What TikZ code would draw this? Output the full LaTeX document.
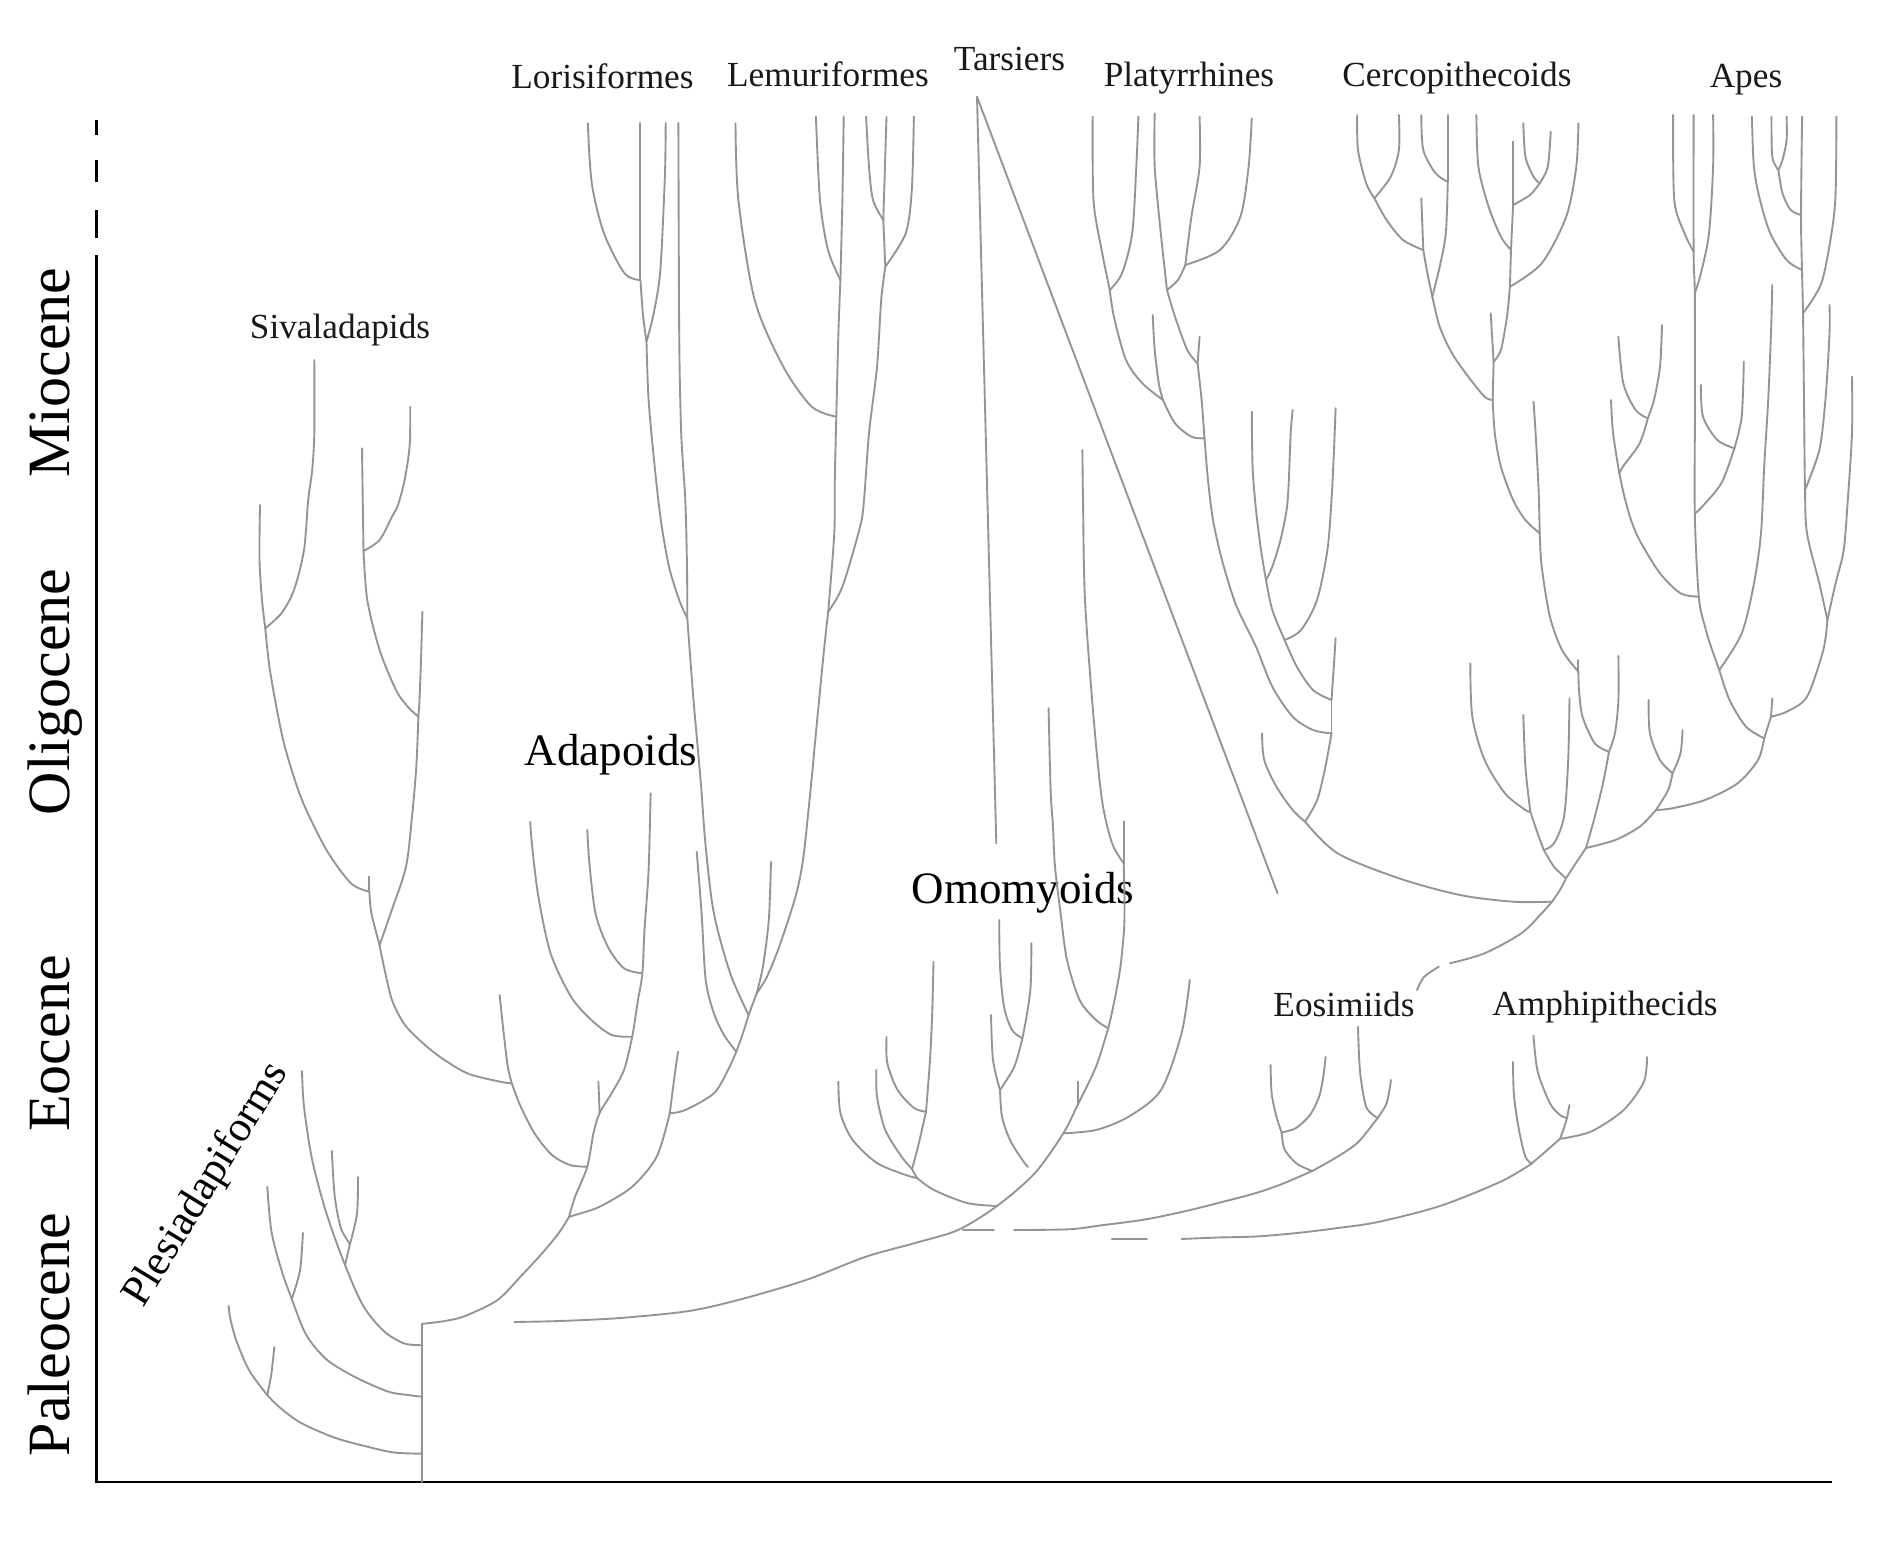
\documentclass[tikz,border=0pt]{standalone}
\usepackage{fontspec}
\setmainfont{Liberation Serif}
\begin{document}
\begin{tikzpicture}[x=0.4pt,y=-0.4pt,
  br/.style={draw=black!42,line width=0.75pt,line cap=round,line join=round},
  ax/.style={draw=black,line width=1.1pt},
  lbl/.style={font=\fontsize{14.1}{16}\selectfont,anchor=base,inner sep=0pt,text=black!90},
  big/.style={font=\fontsize{18}{21}\selectfont,anchor=base,inner sep=0pt,text=black},
  era/.style={font=\fontsize{24}{28}\selectfont,anchor=base,rotate=90,inner sep=0pt,text=black}]
\useasboundingbox (0,0) rectangle (1896,1552);
\fill[white] (0,0) rectangle (1896,1552);
% ---------- axes ----------
\coordinate (ax0) at (96.7,1482);
\coordinate (axT) at (96.7,255);
\coordinate (axR) at (1831.5,1482);
\draw[ax] (axT) -- (ax0) -- (axR);
\draw[ax] (96.7,120) -- (96.7,135) (96.7,160) -- (96.7,182) (96.7,210) -- (96.7,238);
\node[era] (miocene) at (70,372.5) {Miocene};
\node[era] (oligocene) at (70,692) {Oligocene};
\node[era] (eocene) at (70,1043.5) {Eocene};
\node[era] (paleocene) at (70,1334.5) {Paleocene};
% ---------- labels ----------
\node[lbl] (lLor) at (602.5,89) {Lorisiformes};
\node[lbl] (lLem) at (828,87) {Lemuriformes};
\node[lbl] (lTar) at (1009.5,71) {Tarsiers};
\node[lbl] (lPla) at (1189,87) {Platyrrhines};
\node[lbl] (lCer) at (1457,87) {Cercopithecoids};
\node[lbl] (lApe) at (1746,88) {Apes};
\node[lbl] (lSiv) at (340,339) {Sivaladapids};
\node[big] (lAda) at (611,765) {Adapoids};
\node[big] (lOmo) at (1023,903) {Omomyoids};
\node[lbl] (lEos) at (1344,1016) {Eosimiids};
\node[lbl] (lAmp) at (1605,1015) {Amphipithecids};
\node[font=\fontsize{17.2}{20}\selectfont,rotate=58.5,inner sep=0pt] (lPle) at (207,1185) {Plesiadapiforms};
% ---------- root and Plesiadapiforms ----------
\coordinate (R0) at (422.4,1482);
\coordinate (R1) at (422.4,1323.8);
\coordinate (P1n) at (422.4,1453.7);
\coordinate (P1s) at (267.3,1395);
\coordinate (P1t) at (228.6,1306);
\coordinate (P1u) at (274.3,1347);
\coordinate (P2n) at (422.4,1396.8);
\coordinate (P2s) at (291.8,1299);
\coordinate (P2t) at (267.3,1186.8);
\coordinate (P2u) at (302.9,1233);
\coordinate (P3n) at (422.4,1345.2);
\coordinate (P3s) at (345,1265);
\coordinate (P3t) at (302,1071);
\coordinate (P3f) at (350,1244);
\coordinate (P3l) at (331.8,1151);
\coordinate (P3r) at (358,1177);
\draw[br] (R0) -- (R1);
\draw[br] plot[smooth] coordinates {(P1n) (394,1452.5) (367,1446.6) (334.7,1437.7) (302,1423.5) (281.6,1409) (P1s) (249,1370) (236.7,1341.6) (230.6,1320) (P1t)};
\draw[br] plot[smooth] coordinates {(P1s) (271.4,1373.7) (P1u)};
\draw[br] plot[smooth] coordinates {(P2n) (408,1395) (387.8,1391.5) (355,1377) (326.5,1359.4) (306,1334.5) (P2s) (281.6,1270.5) (271.4,1231.3) (P2t)};
\draw[br] plot[smooth] coordinates {(P2s) (300,1270.5) (P2u)};
\draw[br] plot[smooth] coordinates {(P3n) (404,1343.4) (383.7,1331) (363.3,1306) (P3s) (326.5,1213.5) (312.2,1160) (304,1106.8) (P3t)};
\draw[br] (P3s) -- (P3f);
\draw[br] plot[smooth] coordinates {(P3f) (340.8,1227.8) (334.7,1195.7) (P3l)};
\draw[br] plot[smooth] coordinates {(P3f) (357,1213.5) (P3r)};
% ---------- Sivaladapids ----------
\coordinate (S0) at (511.8,1083.3);
\coordinate (S0t) at (499.6,995);
\coordinate (Si0) at (379.6,945);
\coordinate (SiK) at (369.4,891.7);
\coordinate (SiKt) at (369.4,876.7);
\coordinate (SiL) at (265.3,628.3);
\coordinate (SiLa) at (260,505);
\coordinate (SiLb) at (314.3,360);
\coordinate (SiT) at (418.4,716.7);
\coordinate (SiTt) at (422.4,611.7);
\coordinate (SiM) at (363.5,551);
\coordinate (SiMa) at (362,448.3);
\coordinate (SiMb) at (410.2,406.7);
\draw[br] plot[smooth] coordinates {(SiLa) (259.5,560) (262,600) (SiL)};
\draw[br] plot[smooth] coordinates {(SiLb) (314.3,433) (312.2,470) (308.2,500) (304,550) (294,590) (281.6,613) (SiL)};
\draw[br] plot[smooth] coordinates {(SiL) (269.4,666.7) (277.6,713.3) (285.7,750) (302,800) (326.5,850) (351,883.3) (SiK)};
\draw[br] (SiK) -- (SiKt);
\draw[br] plot[smooth] coordinates {(SiK) (371.4,913.3) (Si0)};
\draw[br] (SiMa) -- (SiM);
\draw[br] plot[smooth] coordinates {(SiMb) (410,440) (408,460) (404,483) (398,505) (391.8,517) (379.6,540) (SiM)};
\draw[br] plot[smooth] coordinates {(SiM) (367.3,600) (379.6,650) (396,690) (408,707) (SiT)};
\draw[br] plot[smooth] coordinates {(SiTt) (421,660) (419.5,700) (SiT)};
\draw[br] plot[smooth] coordinates {(SiT) (416.3,766.7) (412,816.7) (406,866.7) (391.8,910) (Si0)};
\draw[br] plot[smooth] coordinates {(Si0) (384,967) (392,1000) (405,1025) (425,1045) (444.5,1060) (469,1074) (501.6,1082) (S0)};
% ---------- Adapoids ----------
\coordinate (A1) at (569,1217);
\coordinate (A2) at (587.3,1166.7);
\coordinate (A3) at (599.6,1113);
\coordinate (A3t) at (598.4,1081.7);
\coordinate (A4) at (632.2,1036.7);
\coordinate (A4t) at (530.2,821.7);
\coordinate (A5) at (642.4,973.3);
\coordinate (A5t) at (587.3,830);
\coordinate (ATt) at (650.6,793.3);
\coordinate (B1) at (669.8,1113.3);
\coordinate (B1t) at (678,1051.7);
\coordinate (B2) at (736.3,1051.7);
\coordinate (B2t) at (696.7,851.7);
\coordinate (B3) at (748.6,1015);
\coordinate (B4) at (756.7,993.3);
\coordinate (B4t) at (771,861.7);
\draw[br] plot[smooth] coordinates {(R1) (445,1321) (465,1316) (497.6,1300) (522,1275) (542.4,1253) (558.8,1233) (A1)};
\draw[br] plot[smooth] coordinates {(A1) (575,1197) (A2) (593.5,1133) (A3) (611.8,1093) (624,1070) (A4) (638,1000) (A5) (644.5,930) (648.6,870) (ATt)};
\draw[br] (A3) -- (A3t);
\draw[br] plot[smooth] coordinates {(A2) (570,1165) (552,1155) (534.3,1133) (520,1105) (S0)};
\draw[br] plot[smooth] coordinates {(S0) (507.8,1066.7) (503.7,1033.3) (S0t)};
\draw[br] plot[smooth] coordinates {(A4) (611.8,1035) (591.4,1020) (571,996.7) (550.6,953.3) (538.4,896.7) (532.2,846.7) (A4t)};
\draw[br] plot[smooth] coordinates {(A5) (624,968.3) (607.8,946.7) (595.5,913.3) (589.4,863.3) (A5t)};
\draw[br] plot[smooth] coordinates {(A1) (575,1215) (599.6,1206.7) (632.2,1186.7) (656.7,1156.7) (B1)};
\draw[br] plot[smooth] coordinates {(B1) (674,1080) (B1t)};
\draw[br] plot[smooth] coordinates {(B1) (685.3,1110) (713.9,1093.3) (728,1070) (B2)};
\draw[br] plot[smooth] coordinates {(B2) (724,1035) (713.9,1013.3) (705.7,980) (701.6,913.3) (B2t)};
\draw[br] plot[smooth] coordinates {(B2) (743,1033) (B3)};
\draw[br] (B3) -- (B4);
\draw[br] plot[smooth] coordinates {(B4) (762.9,966.7) (768.8,920) (B4t)};
% ---------- Lorisiformes ----------
\coordinate (LZ) at (687.3,618.3);
\coordinate (LZa) at (640.4,280);
\coordinate (LZb) at (646.5,341.7);
\coordinate (Lt1) at (587.8,123.3);
\coordinate (Lt2) at (640.4,123);
\coordinate (Lt3) at (665.7,123);
\coordinate (Lt4) at (678.4,123);
\draw[br] plot[smooth] coordinates {(B3) (730.2,973.3) (713.9,913.3) (705.7,846.7) (700.6,780) (693.5,700) (LZ)};
\draw[br] plot[smooth] coordinates {(Lt1) (591.8,183.3) (604,233.3) (624.5,273.3) (LZa)};
\draw[br] (Lt2) -- (LZa);
\draw[br] plot[smooth] coordinates {(LZa) (643,315) (LZb)};
\draw[br] plot[smooth] coordinates {(Lt3) (665,173) (661.6,250) (659,283) (653,316.7) (LZb)};
\draw[br] plot[smooth] coordinates {(LZb) (648.6,400) (654.7,466.7) (660.8,520) (669,566.7) (679.2,600) (LZ)};
\draw[br] plot[smooth] coordinates {(Lt4) (679.2,333) (681.2,433) (685.3,500) (687,567) (LZ)};
% ---------- Lemuriformes ----------
\coordinate (LM1) at (828.2,611.7);
\coordinate (LMv) at (836.3,416.7);
\coordinate (LMa) at (840.4,280);
\coordinate (LMb) at (883.3,220);
\coordinate (LMc) at (885.3,266.7);
\coordinate (Mt1) at (735.5,123.3);
\coordinate (Mt2) at (815.9,116.7);
\coordinate (Mt3) at (843.7,116.7);
\coordinate (Mt4) at (866.1,116.7);
\coordinate (Mt5) at (886.5,116.7);
\coordinate (Mt6) at (913.9,116.7);
\draw[br] plot[smooth] coordinates {(B4) (767,976.7) (779.2,946.7) (795.5,896.7) (803,860) (808.5,810) (812.5,770) (815.9,733.3) (824,650) (LM1)};
\draw[br] plot[smooth] coordinates {(Mt1) (738.4,200) (754.7,300) (783.3,366.7) (811.8,406.7) (LMv)};
\draw[br] plot[smooth] coordinates {(Mt2) (820,200) (828,250) (LMa)};
\draw[br] plot[smooth] coordinates {(Mt3) (842.4,200) (LMa)};
\draw[br] plot[smooth] coordinates {(LMa) (838.4,333) (LMv)};
\draw[br] plot[smooth] coordinates {(LMv) (834.8,480) (834.3,533) (LM1)};
\draw[br] plot[smooth] coordinates {(Mt4) (869,166.7) (873,200) (LMb)};
\draw[br] (Mt5) -- (LMb);
\draw[br] (LMb) -- (LMc);
\draw[br] plot[smooth] coordinates {(Mt6) (911.8,190) (905.7,233.3) (LMc)};
\draw[br] plot[smooth] coordinates {(LMc) (881.2,300) (877,366.7) (869,433.3) (864,500) (860,527) (842.4,586.7) (LM1)};
% ---------- Tarsiers ----------
\coordinate (T0) at (977,96.7);
\coordinate (Tv) at (996.3,843.3);
\coordinate (Td) at (1277.6,893.3);
\draw[br] (T0) -- (Tv);
\draw[br] (T0) -- (Td);
% ---------- Omomyoids ----------
\coordinate (S1) at (514.3,1322);
\coordinate (D0) at (958,1230);
\coordinate (D1) at (997,1206);
\coordinate (D2) at (1063.3,1133.3);
\coordinate (D2t) at (1189.8,980);
\coordinate (D3) at (1077.6,1105);
\coordinate (D3t) at (1077.6,1081.7);
\coordinate (D4) at (1108.2,1028.3);
\coordinate (D5) at (1123.7,863.3);
\coordinate (D5t) at (1123.7,821.7);
\coordinate (Ot1) at (1082.4,450);
\coordinate (Ot2) at (1048.6,708.3);
\coordinate (O0) at (917,1178);
\coordinate (O1) at (912,1169);
\coordinate (O2) at (926,1111.7);
\coordinate (Ot3) at (838.4,1081.7);
\coordinate (Ot4) at (876.3,1070);
\coordinate (Ot5) at (933.5,961.7);
\coordinate (Ot6) at (886.5,1036.7);
\coordinate (Om1) at (1022.4,1038.3);
\coordinate (Om2) at (1000,1090);
\coordinate (Omt1) at (999.2,920);
\coordinate (Omt2) at (1031.4,943.3);
\coordinate (Omt3) at (991,1015);
\coordinate (OmE) at (1028,1167);
\draw[br] plot[smooth] coordinates {(S1) (560,1321) (620,1318) (689,1311) (742,1299) (806,1280) (865,1257) (915,1243) (D0) (D1) (1034.7,1173.3) (D2) (D3) (1096,1066.7) (D4)};
\draw[br] plot[smooth] coordinates {(D1) (967,1203) (934,1190) (O0)};
\draw[br] plot[smooth] coordinates {(O0) (905.7,1175) (877,1163) (852.7,1140) (840.4,1113) (Ot3)};
\draw[br] (O0) -- (O1);
\draw[br] plot[smooth] coordinates {(O1) (901.6,1156.7) (885.3,1130) (877,1096.7) (Ot4)};
\draw[br] plot[smooth] coordinates {(O1) (918,1146.7) (O2)};
\draw[br] plot[smooth] coordinates {(O2) (930,1060) (932.2,1013) (Ot5)};
\draw[br] plot[smooth] coordinates {(O2) (914,1108) (897.6,1090) (887.3,1063) (Ot6)};
\draw[br] plot[smooth] coordinates {(D2) (1096,1130) (1128.6,1116.7) (1161,1090) (1181.6,1033) (D2t)};
\draw[br] (D3) -- (D3t);
\draw[br] plot[smooth] coordinates {(D4) (1096,1020) (1079.6,1000) (1067,960) (1061,916.7) (1055,866.7) (1053,826.7) (1050.6,790) (Ot2)};
\draw[br] plot[smooth] coordinates {(D4) (1112.5,1010) (1120,970) (1124,930) (1124.5,900) (D5)};
\draw[br] (D5) -- (D5t);
\draw[br] plot[smooth] coordinates {(D5) (1112,843) (1102,800) (1093.5,716.7) (1085,600) (1083,500) (Ot1)};
\draw[br] plot[smooth] coordinates {(Omt1) (1000,966.7) (1004,1006.7) (1012,1030) (Om1)};
\draw[br] plot[smooth] coordinates {(Omt2) (1030.6,986.7) (1026.5,1016.7) (Om1)};
\draw[br] plot[smooth] coordinates {(Om1) (1014.3,1066.7) (Om2)};
\draw[br] plot[smooth] coordinates {(Omt3) (993,1060) (Om2)};
\draw[br] plot[smooth] coordinates {(Om2) (1002,1116.7) (1010,1140) (1022.4,1160) (OmE)};
% ---------- Eosimiids and Amphipithecids ----------
\coordinate (Eo0) at (1312.2,1171);
\coordinate (Eo1) at (1281.6,1132.5);
\coordinate (Eo2) at (1377.6,1118);
\coordinate (Et1) at (1270.6,1065);
\coordinate (Et2) at (1325.6,1057);
\coordinate (Et3) at (1358,1026.7);
\coordinate (Et4) at (1391,1080);
\coordinate (Am0) at (1531.5,1163.7);
\coordinate (Am1) at (1560,1138.8);
\coordinate (Am2) at (1567,1118);
\coordinate (At1) at (1513,1062);
\coordinate (At2) at (1533.5,1035.6);
\coordinate (At3) at (1569.5,1105);
\coordinate (At4) at (1647,1057);
\coordinate (dA) at (962.9,1230);
\coordinate (dB) at (993.9,1230);
\coordinate (dC) at (1014,1230);
\coordinate (dD) at (1111.8,1239);
\coordinate (dE) at (1147,1239);
\coordinate (dF) at (1181.6,1239);
\draw[br] (dA) -- (dB);
\draw[br] plot[smooth] coordinates {(dC) (1069,1229.3) (1100,1225.5) (1145,1219.5) (1186,1211) (1226,1201) (1256,1193) (1282,1184) (Eo0)};
\draw[br] (dD) -- (dE);
\draw[br] plot[smooth] coordinates {(dF) (1218,1237.5) (1256,1236.5) (1297,1233) (1338,1228) (1378,1222) (1440,1206) (1501,1181.5) (Am0)};
\draw[br] plot[smooth] coordinates {(Eo0) (1296.8,1163.7) (1284.6,1149.5) (Eo1)};
\draw[br] plot[smooth] coordinates {(Eo1) (1276,1115) (1271.6,1093) (Et1)};
\draw[br] plot[smooth] coordinates {(Eo1) (1296,1128) (1310,1115) (1319.3,1096) (1323.5,1075) (Et2)};
\draw[br] plot[smooth] coordinates {(Eo0) (1337.6,1156.6) (1358,1142.3) (Eo2)};
\draw[br] plot[smooth] coordinates {(Eo2) (1366.2,1106.8) (1360,1071) (Et3)};
\draw[br] plot[smooth] coordinates {(Eo2) (1386.6,1103.2) (Et4)};
\draw[br] plot[smooth] coordinates {(Am0) (1525.4,1156.6) (1519.3,1131.7) (1514,1096) (At1)};
\draw[br] plot[smooth] coordinates {(Am0) (1545,1152) (Am1)};
\draw[br] plot[smooth] coordinates {(Am1) (1564,1128) (Am2)};
\draw[br] plot[smooth] coordinates {(Am2) (1560,1115) (1549.9,1103.2) (1537.6,1071.2) (At2)};
\draw[br] (Am2) -- (At3);
\draw[br] plot[smooth] coordinates {(Am1) (1590.7,1131.7) (1623.3,1110.3) (1643.8,1081.9) (At4)};
% ---------- crown anthropoids ----------
\coordinate (C0) at (1552,901.7);
\coordinate (sqA) at (1417,990);
\coordinate (sqB) at (1438.8,966.7);
\coordinate (sqC) at (1449.9,963.3);
\draw[br] plot[smooth] coordinates {(sqA) (1424,977) (sqB)};
\draw[br] plot[smooth] coordinates {(sqC) (1484.6,953.3) (1521.3,933.3) (1541.7,913.3) (C0)};
% Platyrrhines
\coordinate (P0) at (1305,821.7);
\coordinate (Pt0) at (1262,733.3);
\coordinate (PN) at (1331.5,733.3);
\coordinate (PN2) at (1331.5,700);
\coordinate (PNt) at (1335.6,638.3);
\coordinate (Q) at (1284.6,640);
\coordinate (Qv) at (1266,580);
\coordinate (Qt1) at (1251.8,411.7);
\coordinate (Qt2) at (1292.7,410);
\coordinate (Qt3) at (1335.6,408.3);
\coordinate (Pa) at (1109.8,290);
\coordinate (Pb) at (1162.9,400);
\coordinate (Pc) at (1204.5,438.3);
\coordinate (Pd) at (1167,290);
\coordinate (Px) at (1185.3,265);
\coordinate (Pe) at (1197.6,363.3);
\coordinate (pa1) at (1092.7,116.7);
\coordinate (pa2) at (1138.4,116.7);
\coordinate (pa3) at (1152.7,315);
\coordinate (pa4) at (1154.7,113.3);
\coordinate (pa5) at (1199.6,116.7);
\coordinate (pa6) at (1251.8,118.3);
\coordinate (pa7) at (1199.6,336.7);
\draw[br] plot[smooth] coordinates {(C0) (1513,901.7) (1460,895) (1398.9,878.3) (1337.6,853.3) (P0)};
\draw[br] plot[smooth] coordinates {(P0) (1292.7,810) (1276.4,786.7) (1264.2,760) (Pt0)};
\draw[br] plot[smooth] coordinates {(P0) (1317.2,800) (1325.4,766.7) (PN)};
\draw[br] (PN) -- (PN2);
\draw[br] plot[smooth] coordinates {(PN2) (1333.6,670) (PNt)};
\draw[br] plot[smooth] coordinates {(PN2) (1313,690) (1296.8,666.7) (Q)};
\draw[br] plot[smooth] coordinates {(Q) (1272.3,610) (Qv)};
\draw[br] plot[smooth] coordinates {(Qt1) (1252.6,466.7) (1256,510) (1261,550) (Qv)};
\draw[br] plot[smooth] coordinates {(Qt2) (1290.7,433) (1288.7,483) (1286.6,510) (1280.5,540) (1272.3,566.7) (Qv)};
\draw[br] plot[smooth] coordinates {(Q) (1301,630) (1317,600) (1327.4,550) (1331.5,500) (1334,450) (Qt3)};
\draw[br] plot[smooth] coordinates {(Pc) (1208,480) (1213,520) (1222,560) (1236,605) (1256,646.7) (1272.3,686.7) (1292.7,716.7) (1313,730) (PN)};
\draw[br] plot[smooth] coordinates {(pa1) (1093.5,200) (1101.6,250) (Pa)};
\draw[br] plot[smooth] coordinates {(pa2) (1136.3,166.7) (1132.2,233.3) (1122,273.3) (Pa)};
\draw[br] plot[smooth] coordinates {(Pa) (1113.9,316.7) (1126,360) (1142.4,383.3) (Pb)};
\draw[br] plot[smooth] coordinates {(pa3) (1154.7,350) (1158.8,383.3) (Pb)};
\draw[br] plot[smooth] coordinates {(Pb) (1175,423.3) (1191.4,436.7) (Pc)};
\draw[br] plot[smooth] coordinates {(pa4) (1154.7,166.7) (1160.8,233.3) (Pd)};
\draw[br] plot[smooth] coordinates {(pa5) (1199.6,166.7) (1191.4,216.7) (Px)};
\draw[br] plot[smooth] coordinates {(pa6) (1248.6,166.7) (1240.4,216.7) (1220,250) (Px)};
\draw[br] plot[smooth] coordinates {(Px) (1178,280) (Pd)};
\draw[br] plot[smooth] coordinates {(Pd) (1175,316.7) (1187.3,350) (Pe)};
\draw[br] (pa7) -- (Pe);
\draw[br] plot[smooth] coordinates {(Pe) (1201.6,400) (Pc)};
% Catarrhines
\coordinate (C1) at (1566,878.3);
\coordinate (Cr) at (1586,848);
\coordinate (Cs) at (1543.8,850);
\coordinate (Ct) at (1530.3,811.7);
\coordinate (ct1) at (1470.3,663.3);
\coordinate (ct2) at (1523.3,715);
\coordinate (ct3) at (1569.5,698.3);
\coordinate (Cf) at (1609,751.7);
\coordinate (Cft) at (1618.4,656);
\coordinate (Cc) at (1578.4,671.7);
\coordinate (Cct) at (1578.4,660);
\coordinate (Ce) at (1539.7,533.3);
\coordinate (c12) at (1533.5,401.7);
\coordinate (Q5) at (1492.7,400);
\coordinate (Q1) at (1374.4,198.3);
\coordinate (Q2) at (1423.3,250);
\coordinate (Q3) at (1447.8,181.7);
\coordinate (Qd) at (1432.3,296.7);
\coordinate (Ca) at (1539.7,183.3);
\coordinate (Cb) at (1513.1,205);
\coordinate (Cm) at (1511,250);
\coordinate (Cn) at (1509.9,286.7);
\coordinate (Co) at (1493.6,361.7);
\coordinate (c1) at (1357.2,115);
\coordinate (c2) at (1398.9,115);
\coordinate (c3) at (1421.3,115);
\coordinate (c4) at (1447.8,115);
\coordinate (c5) at (1476.4,115);
\coordinate (c6) at (1523.3,123.3);
\coordinate (c7) at (1550.7,131.7);
\coordinate (c8) at (1578.4,123.3);
\coordinate (c9) at (1513.1,141.7);
\coordinate (c10) at (1421.3,198.3);
\coordinate (c11) at (1490.7,313.3);
\draw[br] plot[smooth] coordinates {(C0) (1560,890) (C1)};
\draw[br] plot[smooth] coordinates {(C1) (1574,866) (Cr)};
\draw[br] plot[smooth] coordinates {(C1) (1554,866.7) (Cs)};
\draw[br] plot[smooth] coordinates {(Cs) (1537.6,833.3) (Ct)};
\draw[br] plot[smooth] coordinates {(Cs) (1554,843.3) (1564,816.7) (1568.2,760) (ct3)};
\draw[br] plot[smooth] coordinates {(Ct) (1525.4,810) (1505,793.3) (1484.6,760) (1472.3,716.7) (ct1)};
\draw[br] plot[smooth] coordinates {(Ct) (1525.4,766.7) (ct2)};
\draw[br] plot[smooth] coordinates {(Cr) (1594.8,816.7) (1603,783.3) (Cf)};
\draw[br] plot[smooth] coordinates {(Cf) (1615,733) (1618.4,700) (Cft)};
\draw[br] plot[smooth] coordinates {(Cf) (1594.8,743.3) (1582.5,716.7) (1579,690) (Cc)};
\draw[br] (Cc) -- (Cct);
\draw[br] plot[smooth] coordinates {(Cc) (1562,650) (1549.9,616.7) (1541.7,566.7) (Ce)};
\draw[br] plot[smooth] coordinates {(Ce) (1538.6,490) (1535.6,433) (c12)};
\draw[br] plot[smooth] coordinates {(Q5) (1494.8,433.3) (1500.9,466.7) (1513.1,500) (1525.4,520) (Ce)};
\draw[br] plot[smooth] coordinates {(c1) (1358,150) (1366.2,183.3) (Q1)};
\draw[br] plot[smooth] coordinates {(c2) (1398.9,150) (1390.7,176.7) (Q1)};
\draw[br] plot[smooth] coordinates {(Q1) (1386.6,220) (1403,240) (Q2)};
\draw[br] (c10) -- (Q2);
\draw[br] plot[smooth] coordinates {(c3) (1423.3,150) (1435.6,173.3) (Q3)};
\draw[br] (c4) -- (Q3);
\draw[br] plot[smooth] coordinates {(Q3) (1445.8,233.3) (1439.7,266.7) (Qd)};
\draw[br] plot[smooth] coordinates {(Q2) (1427.4,273.3) (Qd)};
\draw[br] plot[smooth] coordinates {(Qd) (1439.7,326.7) (1452,353.3) (1468.3,376.7) (1484.6,396.7) (Q5)};
\draw[br] plot[smooth] coordinates {(c6) (1525.4,156.7) (1533.5,176.7) (Ca)};
\draw[br] plot[smooth] coordinates {(c7) (1547.8,166.7) (Ca)};
\draw[br] plot[smooth] coordinates {(Ca) (1530,195) (Cb)};
\draw[br] (c9) -- (Cb);
\draw[br] (Cb) -- (Cm);
\draw[br] plot[smooth] coordinates {(c5) (1478.4,166.7) (1488.6,206.7) (1500.9,236.7) (Cm)};
\draw[br] (Cm) -- (Cn);
\draw[br] plot[smooth] coordinates {(c8) (1576.3,166.7) (1566.2,216.7) (1541.7,263.3) (Cn)};
\draw[br] plot[smooth] coordinates {(Cn) (1507,316.7) (1500.9,350) (Co)};
\draw[br] (c11) -- (Co);
\draw[br] (Co) -- (Q5);
% Apes
\coordinate (A0) at (1656,810);
\coordinate (Aq) at (1672.5,773.3);
\coordinate (q1) at (1648.6,700);
\coordinate (q2) at (1682.5,730);
\coordinate (Ar) at (1764.2,738.3);
\coordinate (Ak) at (1771,716.7);
\coordinate (Akt) at (1772.3,698.3);
\coordinate (Aj) at (1719.3,670);
\coordinate (Ap1) at (1827.4,620);
\coordinate (e1) at (1673.1,115);
\coordinate (e2) at (1693.6,115);
\coordinate (e3) at (1713.1,115);
\coordinate (e4) at (1743.8,361.7);
\coordinate (e5) at (1700.9,385);
\coordinate (Ae) at (1734.4,448.3);
\coordinate (AV1) at (1693.6,251.7);
\coordinate (AV2) at (1694.8,293.3);
\coordinate (AV3) at (1694.8,513.3);
\coordinate (AV4) at (1698.8,596.7);
\coordinate (Aw1) at (1647.8,418.3);
\coordinate (Aw2) at (1619.3,473.3);
\coordinate (w1) at (1618.4,336.7);
\coordinate (w2) at (1662,325);
\coordinate (w3) at (1611,400);
\coordinate (f0) at (1751.9,116.7);
\coordinate (f1) at (1771.5,116.7);
\coordinate (f2) at (1786.6,116.7);
\coordinate (f4) at (1802.1,116.7);
\coordinate (f5) at (1836.4,116.7);
\coordinate (f6) at (1829.5,305);
\coordinate (f7) at (1852,376.7);
\coordinate (f8) at (1772.3,285);
\coordinate (fN) at (1778.4,170);
\coordinate (AU1) at (1801,215);
\coordinate (AU2) at (1802,270);
\coordinate (AU3) at (1803,313.3);
\coordinate (AU4) at (1805,490);
\draw[br] plot[smooth] coordinates {(A0) (1639.7,826.7) (1615.2,840) (Cr)};
\draw[br] plot[smooth] coordinates {(Aq) (1668.2,790) (A0)};
\draw[br] plot[smooth] coordinates {(q1) (1649.9,733.3) (1660,760) (Aq)};
\draw[br] plot[smooth] coordinates {(q2) (1680.5,753.3) (Aq)};
\draw[br] plot[smooth] coordinates {(Ar) (1758,760) (1737.6,783.3) (1705,800) (1672.3,808.3) (A0)};
\draw[br] plot[smooth] coordinates {(e2) (AV1) (AV2) (1695,400) (AV3) (AV4) (1705,626.7) (1711,646.7) (Aj)};
\draw[br] plot[smooth] coordinates {(e1) (1674.3,200) (1684.5,233.3) (AV1)};
\draw[br] plot[smooth] coordinates {(e3) (1713.1,166.7) (1709,233.3) (1700.9,273.3) (AV2)};
\draw[br] plot[smooth] coordinates {(e4) (1741.7,416.7) (Ae)};
\draw[br] plot[smooth] coordinates {(e5) (1703,416.7) (1717.3,440) (Ae)};
\draw[br] plot[smooth] coordinates {(Ae) (1721.3,483.3) (1700.9,508) (AV3)};
\draw[br] plot[smooth] coordinates {(w1) (1623.3,383.3) (1635.6,410) (Aw1)};
\draw[br] plot[smooth] coordinates {(w2) (1660,366.7) (1654,400) (Aw1)};
\draw[br] plot[smooth] coordinates {(Aw1) (1639.7,443.3) (1623.3,466) (Aw2)};
\draw[br] plot[smooth] coordinates {(w3) (1613.1,433.3) (Aw2)};
\draw[br] plot[smooth] coordinates {(Aw2) (1624,495) (1631,520) (1640,541) (1660,573.3) (1680.5,593.3) (AV4)};
\draw[br] plot[smooth] coordinates {(f4) (AU1) (AU2) (AU3) (1804,400) (AU4) (1807,533.3) (1819.3,583.3) (Ap1)};
\draw[br] plot[smooth] coordinates {(f1) (1772.3,156.7) (fN)};
\draw[br] plot[smooth] coordinates {(f2) (1786.6,140) (1782.5,160) (fN)};
\draw[br] plot[smooth] coordinates {(fN) (1782.5,193.3) (1790.7,210) (AU1)};
\draw[br] plot[smooth] coordinates {(f0) (1753.9,166.7) (1760,200) (1770.3,233.3) (1786.6,260) (AU2)};
\draw[br] plot[smooth] coordinates {(f5) (1835.6,193.3) (1831.5,233.3) (1821.3,283.3) (AU3)};
\draw[br] plot[smooth] coordinates {(f6) (1829.5,333.3) (1825.4,400) (1819.3,450) (AU4)};
\draw[br] plot[smooth] coordinates {(f7) (1852,433.3) (1847.8,500) (1843.7,550) (1835.6,583.3) (Ap1)};
\draw[br] plot[smooth] coordinates {(Ap1) (1823.3,650) (1807,696.7) (1786.6,711.7) (Ak)};
\draw[br] (Ak) -- (Akt);
\draw[br] (Ak) -- (Ar);
\draw[br] plot[smooth] coordinates {(f8) (1771,333) (1768.2,400) (1764.2,466.7) (1761,533) (1754,583.3) (1741.7,633.3) (Aj)};
\draw[br] plot[smooth] coordinates {(Aj) (1729.5,700) (1746,726.7) (Ar)};
\end{tikzpicture}
\end{document}
